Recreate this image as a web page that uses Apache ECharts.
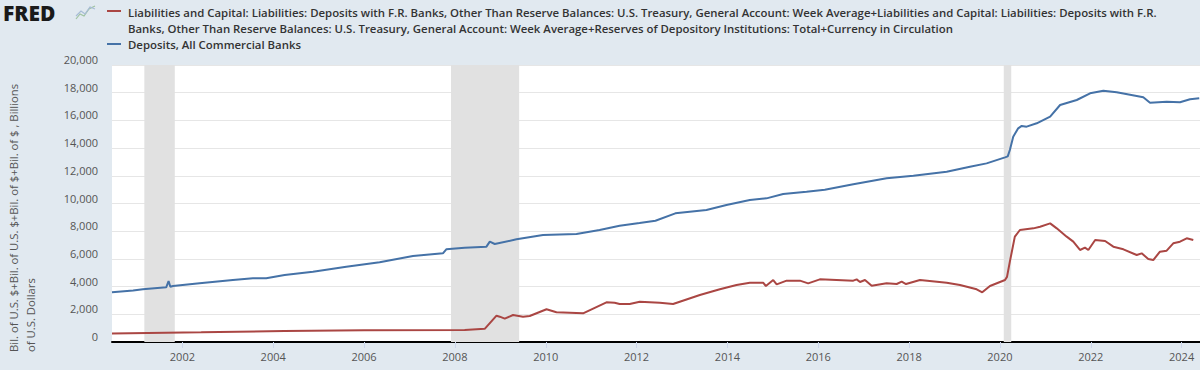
<!DOCTYPE html>
<html><head><meta charset="utf-8">
<script src="https://cdn.jsdelivr.net/npm/echarts@6/dist/echarts.min.js"></script>
<style>html,body{margin:0;padding:0;background:#e1e9f0;}#chart{width:1200px;height:370px;}</style>
</head><body><div id="chart"></div>
<script>
const redName = "Liabilities and Capital: Liabilities: Deposits with F.R. Banks, Other Than Reserve Balances: U.S. Treasury, General Account: Week Average+Liabilities and Capital: Liabilities: Deposits with F.R. Banks, Other Than Reserve Balances: U.S. Treasury, General Account: Week Average+Reserves of Depository Institutions: Total+Currency in Circulation";
const redLegendLines = [
  "Liabilities and Capital: Liabilities: Deposits with F.R. Banks, Other Than Reserve Balances: U.S. Treasury, General Account: Week Average+Liabilities and Capital: Liabilities: Deposits with F.R.",
  "Banks, Other Than Reserve Balances: U.S. Treasury, General Account: Week Average+Reserves of Depository Institutions: Total+Currency in Circulation"
];
const blueName = "Deposits, All Commercial Banks";
const yAxisTitleLines = ["Bil. of U.S. $+Bil. of U.S. $+Bil. of $+Bil. of $ , Billions", "of U.S. Dollars"];

const redDates = ["2000-06-14","2002-06-01","2004-04-01","2006-01-01","2008-03-20","2008-08-28","2008-12-01","2008-12-27","2009-02-05","2009-04-13","2009-07-02","2009-08-25","2010-01-07","2010-03-28","2010-10-28","2011-05-04","2011-07-09","2011-08-18","2011-11-07","2012-01-27","2012-07-06","2012-10-21","2013-05-24","2013-11-01","2014-03-15","2014-06-30","2014-10-15","2014-11-06","2015-01-04","2015-02-01","2015-04-22","2015-08-07","2015-10-12","2016-01-14","2016-10-09","2016-11-05","2016-12-02","2017-01-11","2017-03-06","2017-07-04","2017-09-23","2017-11-02","2017-12-07","2018-03-29","2018-10-30","2019-02-14","2019-06-28","2019-08-12","2019-10-13","2020-02-11","2020-02-27","2020-03-21","2020-04-30","2020-06-10","2020-09-26","2020-11-19","2021-02-08","2021-04-02","2021-06-21","2021-08-13","2021-10-06","2021-11-15","2021-12-12","2022-02-05","2022-04-26","2022-07-01","2022-09-20","2023-01-05","2023-02-14","2023-04-08","2023-05-18","2023-07-11","2023-09-03","2023-10-26","2023-12-19","2024-02-11","2024-04-04"];
const redValues = [620,700,800,840,866,950,1900,1827,1683,1950,1827,1877,2361,2144,2072,2866,2839,2744,2744,2912,2839,2744,3393,3803,4115,4283,4283,4043,4476,4164,4428,4428,4235,4524,4428,4524,4332,4476,4067,4235,4187,4356,4187,4476,4283,4115,3803,3588,4043,4476,4700,5800,7605,8086,8206,8326,8566,8206,7605,7244,6643,6811,6643,7364,7292,6883,6691,6281,6402,5993,5920,6522,6595,7124,7244,7485,7364];

const blueDates = ["2000-06-14","2000-12-01","2001-02-17","2001-08-24","2001-09-12","2001-09-26","2001-10-17","2002-05-19","2003-02-11","2003-07-22","2003-11-06","2004-04-02","2004-11-16","2005-08-11","2006-05-06","2007-01-29","2007-09-27","2007-10-24","2008-03-20","2008-09-11","2008-10-08","2008-11-17","2009-05-11","2009-12-10","2010-09-05","2011-03-10","2011-08-18","2012-01-25","2012-06-01","2012-11-08","2013-07-16","2013-12-24","2014-06-30","2014-11-11","2015-03-25","2015-09-29","2016-02-23","2016-10-09","2017-07-04","2018-02-04","2018-10-30","2019-05-05","2019-09-16","2020-02-11","2020-03-04","2020-03-21","2020-04-17","2020-05-27","2020-06-24","2020-08-03","2020-10-23","2021-02-08","2021-04-29","2021-09-10","2021-12-26","2022-04-12","2022-07-28","2023-01-05","2023-02-27","2023-04-22","2023-09-03","2023-12-19","2024-03-09","2024-05-22"];
const blueValues = [3590,3720,3805,3949,4404,3990,4043,4235,4476,4600,4600,4837,5078,5439,5754,6209,6402,6691,6800,6883,7244,7076,7413,7725,7798,8086,8397,8590,8758,9289,9530,9891,10252,10372,10682,10852,11000,11386,11819,12007,12296,12657,12898,13332,13400,13862,14823,15428,15600,15548,15790,16271,17111,17472,17956,18144,18028,17761,17665,17279,17351,17306,17523,17595];

const xTickYears = [2002,2004,2006,2008,2010,2012,2014,2016,2018,2020,2022,2024];
const recessions = [["2001-03-01","2001-11-01"],["2007-12-01","2009-06-01"],["2020-02-01","2020-04-01"]];
const xMin = "2000-06-14", xMax = "2024-05-28";
const yMin = 0, yMax = 20000, yStep = 2000;

const RED = "#aa4643", BLUE = "#4572a7";
const FONT = "'Open Sans', sans-serif";

const ts = s => Date.parse(s + "T00:00:00Z");
function pairs(d, v) { return d.map((x, i) => [ts(x), v[i]]); }
const tickTimes = xTickYears.map(y => Date.UTC(y, 0, 1));

const chart = echarts.init(document.getElementById('chart'), null, {renderer: 'svg'});
chart.setOption({
  animation: false,
  backgroundColor: '#e1e9f0',
  grid: {left: 112, right: 0, top: 65, bottom: 28, show: true, backgroundColor: '#ffffff', borderWidth: 0},
  xAxis: {
    type: 'value', min: ts(xMin), max: ts(xMax), scale: true,
    axisLine: {show: true, onZero: false, lineStyle: {color: '#000', width: 2}},
    axisTick: {show: true, customValues: tickTimes, length: 6, lineStyle: {color: '#ccd6eb'}},
    axisLabel: {customValues: tickTimes, color: '#555', fontFamily: FONT, fontSize: 11, margin: 9,
      formatter: v => String(new Date(v).getUTCFullYear())},
    splitLine: {show: false}
  },
  yAxis: {
    type: 'value', min: yMin, max: yMax, interval: yStep,
    axisLine: {show: false}, axisTick: {show: false},
    axisLabel: {color: '#555', fontFamily: FONT, fontSize: 11, margin: 14, verticalAlign: 'bottom', lineHeight: 11,
      formatter: v => v.toLocaleString('en-US')},
    splitLine: {lineStyle: {color: '#e6e6e6', width: 1}}
  },
  series: [
    {name: redName, type: 'line', data: pairs(redDates, redValues), showSymbol: false, symbol: 'none',
      lineStyle: {color: RED, width: 2}, itemStyle: {color: RED}, z: 3,
      markArea: {silent: true, itemStyle: {color: '#e1e1e1'},
        data: recessions.map(r => [{xAxis: ts(r[0])}, {xAxis: ts(r[1])}])}},
    {name: blueName, type: 'line', data: pairs(blueDates, blueValues), showSymbol: false, symbol: 'none',
      lineStyle: {color: BLUE, width: 2}, itemStyle: {color: BLUE}, z: 3}
  ],
  graphic: [
    {type: 'text', x: 3, y: 13, style: {text: 'FRED', font: "800 21px 'Open Sans', sans-serif", fill: '#1a1a1a', textVerticalAlign: 'middle', lineHeight: 21}},
    {type: 'polyline', shape: {points: [[76,19],[80,14],[84,16],[89,9],[95,6]]}, style: {stroke: '#9fc3a0', lineWidth: 1.2, fill: null}},
    {type: 'polyline', shape: {points: [[76,16],[81,11],[85,14],[90,7],[95,9]]}, style: {stroke: '#a7bcd6', lineWidth: 1.2, fill: null}},
    {type: 'line', shape: {x1: 107, y1: 11, x2: 121, y2: 11}, style: {stroke: RED, lineWidth: 2}},
    {type: 'line', shape: {x1: 107, y1: 44, x2: 121, y2: 44}, style: {stroke: BLUE, lineWidth: 2}},
    {type: 'text', x: 128, y: 12, style: {text: redLegendLines[0], font: "600 11.4px 'Open Sans', sans-serif", fill: '#333', textVerticalAlign: 'middle'}},
    {type: 'text', x: 128, y: 28, style: {text: redLegendLines[1], font: "600 11.4px 'Open Sans', sans-serif", fill: '#333', textVerticalAlign: 'middle'}},
    {type: 'text', x: 128, y: 44, style: {text: blueName, font: "600 11.4px 'Open Sans', sans-serif", fill: '#333', textVerticalAlign: 'middle'}},
    {type: 'text', x: 13, y: 352, rotation: Math.PI / 2, style: {text: yAxisTitleLines[0], font: "11.3px 'Open Sans', sans-serif", fill: '#555', textAlign: 'left', textVerticalAlign: 'middle'}},
    {type: 'text', x: 30, y: 352, rotation: Math.PI / 2, style: {text: yAxisTitleLines[1], font: "11.3px 'Open Sans', sans-serif", fill: '#555', textAlign: 'left', textVerticalAlign: 'middle'}}
  ]
});
</script></body></html>
